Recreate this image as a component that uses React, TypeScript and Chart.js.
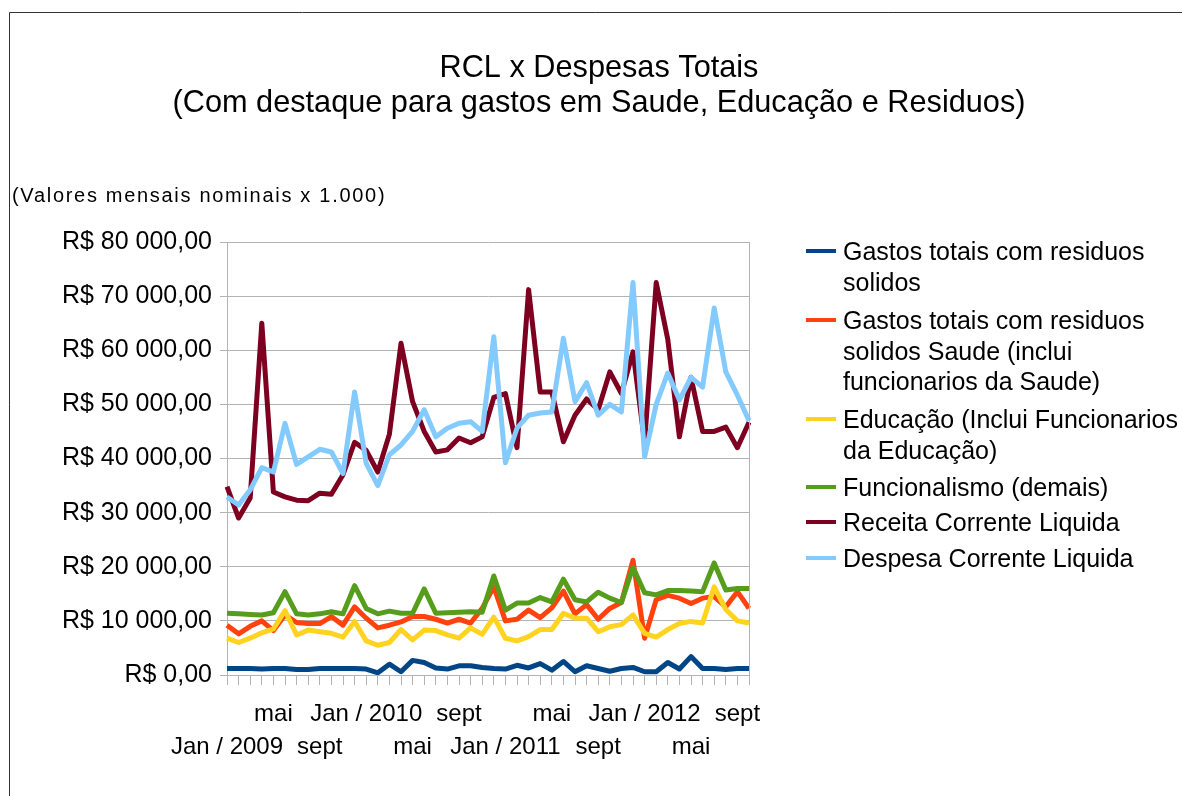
import React, { useEffect, useRef } from 'react';
import { Chart, registerables } from 'chart.js';

Chart.register(...registerables);

const FONT = '"Liberation Sans", Arial, sans-serif';

const months = [
  'Jan / 2009', 'fev', 'mar', 'abr', 'mai', 'jun', 'jul', 'ago', 'sept', 'out', 'nov', 'dez',
  'Jan / 2010', 'fev', 'mar', 'abr', 'mai', 'jun', 'jul', 'ago', 'sept', 'out', 'nov', 'dez',
  'Jan / 2011', 'fev', 'mar', 'abr', 'mai', 'jun', 'jul', 'ago', 'sept', 'out', 'nov', 'dez',
  'Jan / 2012', 'fev', 'mar', 'abr', 'mai', 'jun', 'jul', 'ago', 'sept', 'out',
];

const residuos = [
  1200, 1200, 1200, 1100, 1200, 1200, 1000, 1000, 1200, 1200, 1200, 1200,
  1100, 400, 2000, 600, 2700, 2300, 1300, 1100, 1700, 1700, 1400, 1200,
  1100, 1800, 1300, 2100, 900, 2500, 600, 1700, 1200, 700, 1200, 1400,
  600, 600, 2300, 1100, 3400, 1200, 1200, 1000, 1200, 1200,
];

const saude = [
  9200, 7600, 9000, 10000, 8200, 11100, 9700, 9500, 9500, 10800, 9200, 12600,
  10500, 8700, 9200, 9800, 10800, 10800, 10300, 9600, 10300, 9600, 12300, 16300,
  10000, 10300, 12000, 10600, 12400, 15500, 11300, 13000, 10300, 12300, 13400, 21200,
  6800, 13900, 14700, 14200, 13200, 14200, 14500, 12600, 15400, 12300,
];

const educacao = [
  6800, 6000, 6800, 7800, 8500, 11900, 7400, 8300, 8000, 7700, 7000, 9900,
  6300, 5500, 6000, 8400, 6500, 8300, 8200, 7400, 6800, 8700, 7500, 10700,
  6800, 6300, 7100, 8400, 8400, 11400, 10500, 10500, 8000, 8900, 9300, 11100,
  7700, 7000, 8400, 9500, 9900, 9600, 16300, 12100, 10000, 9600,
];

const funcionalismo = [
  11400, 11300, 11200, 11100, 11500, 15400, 11300, 11100, 11300, 11700, 11300, 16500,
  12300, 11300, 11800, 11400, 11400, 15900, 11400, 11500, 11600, 11700, 11600, 18300,
  12000, 13300, 13300, 14300, 13500, 17700, 13900, 13500, 15300, 14200, 13400, 19900,
  15200, 14800, 15600, 15600, 15500, 15400, 20700, 15700, 16000, 16000,
];

const receita = [
  34800, 29000, 32700, 65000, 33800, 32900, 32300, 32200, 33600, 33400, 37000, 43000,
  41500, 37500, 44500, 61300, 50500, 45000, 41200, 41600, 43800, 42900, 44000, 51300,
  52000, 42000, 71200, 52300, 52300, 43100, 48000, 51000, 49000, 56000, 52000, 59700,
  43000, 72500, 62000, 44000, 55000, 45000, 45000, 45800, 42000, 46700,
];

const despesa = [
  32900, 31400, 34200, 38300, 37500, 46500, 38900, 40300, 41700, 41200, 37200, 52300,
  39100, 35000, 40700, 42500, 45000, 49000, 44000, 45600, 46500, 46800, 45000, 62500,
  39200, 45600, 48000, 48400, 48600, 62200, 50500, 54000, 48000, 50000, 48600, 72500,
  40300, 50000, 55800, 50800, 55000, 53200, 67800, 56000, 51700, 47000,
];

const seriesNames = [
  'Gastos totais com residuos solidos',
  'Gastos totais com residuos solidos Saude (inclui funcionarios da Saude)',
  'Educação (Inclui Funcionarios da Educação)',
  'Funcionalismo (demais)',
  'Receita Corrente Liquida',
  'Despesa Corrente Liquida',
];

const legendLines = [
  ['Gastos totais com residuos', 'solidos'],
  ['Gastos totais com residuos', 'solidos Saude (inclui', 'funcionarios da Saude)'],
  ['Educação (Inclui Funcionarios', 'da Educação)'],
  ['Funcionalismo (demais)'],
  ['Receita Corrente Liquida'],
  ['Despesa Corrente Liquida'],
];

const colors = ['#004586', '#ff420e', '#ffd320', '#579d1c', '#7e0021', '#83caff'];

const titleLines = ['RCL x Despesas Totais', '(Com destaque para gastos em Saude, Educação e Residuos)'];
const subtitleText = '(Valores mensais nominais x 1.000)';

const formatBRL = (v: number) => {
  const s = Math.round(v).toString().replace(/\B(?=(\d{3})+(?!\d))/g, ' ');
  return 'R$ ' + s + ',00';
};

const decorPlugin = {
  id: 'decor',
  beforeDraw(chart: any) {
    const ctx = chart.ctx;
    ctx.save();
    ctx.fillStyle = '#ffffff';
    ctx.fillRect(0, 0, chart.width, chart.height);
    ctx.restore();
  },
  afterDraw(chart: any) {
    const ctx = chart.ctx;
    const ca = chart.chartArea;
    ctx.save();
    // outer frame
    ctx.strokeStyle = '#333333';
    ctx.lineWidth = 1;
    ctx.beginPath();
    ctx.moveTo(9.5, chart.height);
    ctx.lineTo(9.5, 12.5);
    ctx.lineTo(chart.width, 12.5);
    ctx.stroke();
    // plot right border
    ctx.strokeStyle = '#b3b3b3';
    ctx.beginPath();
    ctx.moveTo(Math.round(ca.right) + 0.5, ca.top);
    ctx.lineTo(Math.round(ca.right) + 0.5, ca.bottom);
    ctx.stroke();
    // title
    ctx.fillStyle = '#000000';
    ctx.textAlign = 'center';
    ctx.textBaseline = 'middle';
    ctx.font = `30.7px ${FONT}`;
    ctx.fillText(titleLines[0], 599, 69);
    ctx.fillText(titleLines[1], 599, 104);
    // subtitle
    ctx.textAlign = 'left';
    ctx.font = `20px ${FONT}`;
    (ctx as any).letterSpacing = '1.7px';
    ctx.fillText(subtitleText, 12, 196);
    (ctx as any).letterSpacing = '0px';
    // legend
    const ys = [[253, 284], [322, 353, 383], [421, 452], [489], [524], [560]];
    ctx.font = `25px ${FONT}`;
    legendLines.forEach((lines, i) => {
      ctx.strokeStyle = colors[i];
      ctx.lineWidth = 4;
      ctx.beginPath();
      ctx.moveTo(806, ys[i][0] - 2);
      ctx.lineTo(836, ys[i][0] - 2);
      ctx.stroke();
      ctx.fillStyle = '#000000';
      lines.forEach((t, j) => ctx.fillText(t, 843, ys[i][j]));
    });
    ctx.restore();
  },
};

export default function App() {
  const ref = useRef<HTMLCanvasElement | null>(null);
  useEffect(() => {
    if (!ref.current) return;
    const series = [residuos, saude, educacao, funcionalismo, receita, despesa];
    const chart = new Chart(ref.current, {
      type: 'line',
      data: {
        labels: months,
        datasets: series.map((d, i) => ({
          label: seriesNames[i],
          data: d,
          borderColor: colors[i],
          backgroundColor: colors[i],
          borderWidth: 5,
          pointRadius: 0,
          pointHoverRadius: 0,
          tension: 0,
          fill: false,
          borderJoinStyle: 'round' as const,
          order: 6 - i,
        })),
      },
      options: {
        animation: false,
        responsive: false,
        devicePixelRatio: 1,
        layout: { padding: { top: 242, right: 433, bottom: 0, left: 0 } },
        plugins: {
          legend: { display: false },
          title: { display: false },
          tooltip: { enabled: false },
        },
        scales: {
          x: {
            type: 'category',
            offset: false,
            grid: { drawOnChartArea: false, tickLength: 10, color: '#b3b3b3' },
            border: { color: '#b3b3b3' },
            ticks: {
              autoSkip: false,
              maxRotation: 0,
              minRotation: 0,
              padding: 13,
              color: '#000000',
              font: { family: FONT, size: 24, lineHeight: 1.375 },
              callback: (_v: any, i: number) => {
                if (i % 8 === 0) return ['', months[i]];
                if (i % 8 === 4) return months[i];
                return '';
              },
            },
            afterFit: (s: any) => { s.height = 121; },
          },
          y: {
            min: 0,
            max: 80000,
            grid: { color: '#b3b3b3', tickLength: 7 },
            border: { color: '#b3b3b3' },
            ticks: {
              stepSize: 10000,
              padding: 8,
              color: '#000000',
              font: { family: FONT, size: 25 },
              callback: (v: any) => formatBRL(Number(v)),
            },
            afterFit: (s: any) => { s.width = 227; },
          },
        },
      },
      plugins: [decorPlugin],
    });
    return () => chart.destroy();
  }, []);
  return (
    <div style={{ position: 'absolute', left: 0, top: 0, width: 1182, height: 796, background: '#fff' }}>
      <canvas ref={ref} width={1182} height={796} style={{ width: 1182, height: 796 }} />
    </div>
  );
}
